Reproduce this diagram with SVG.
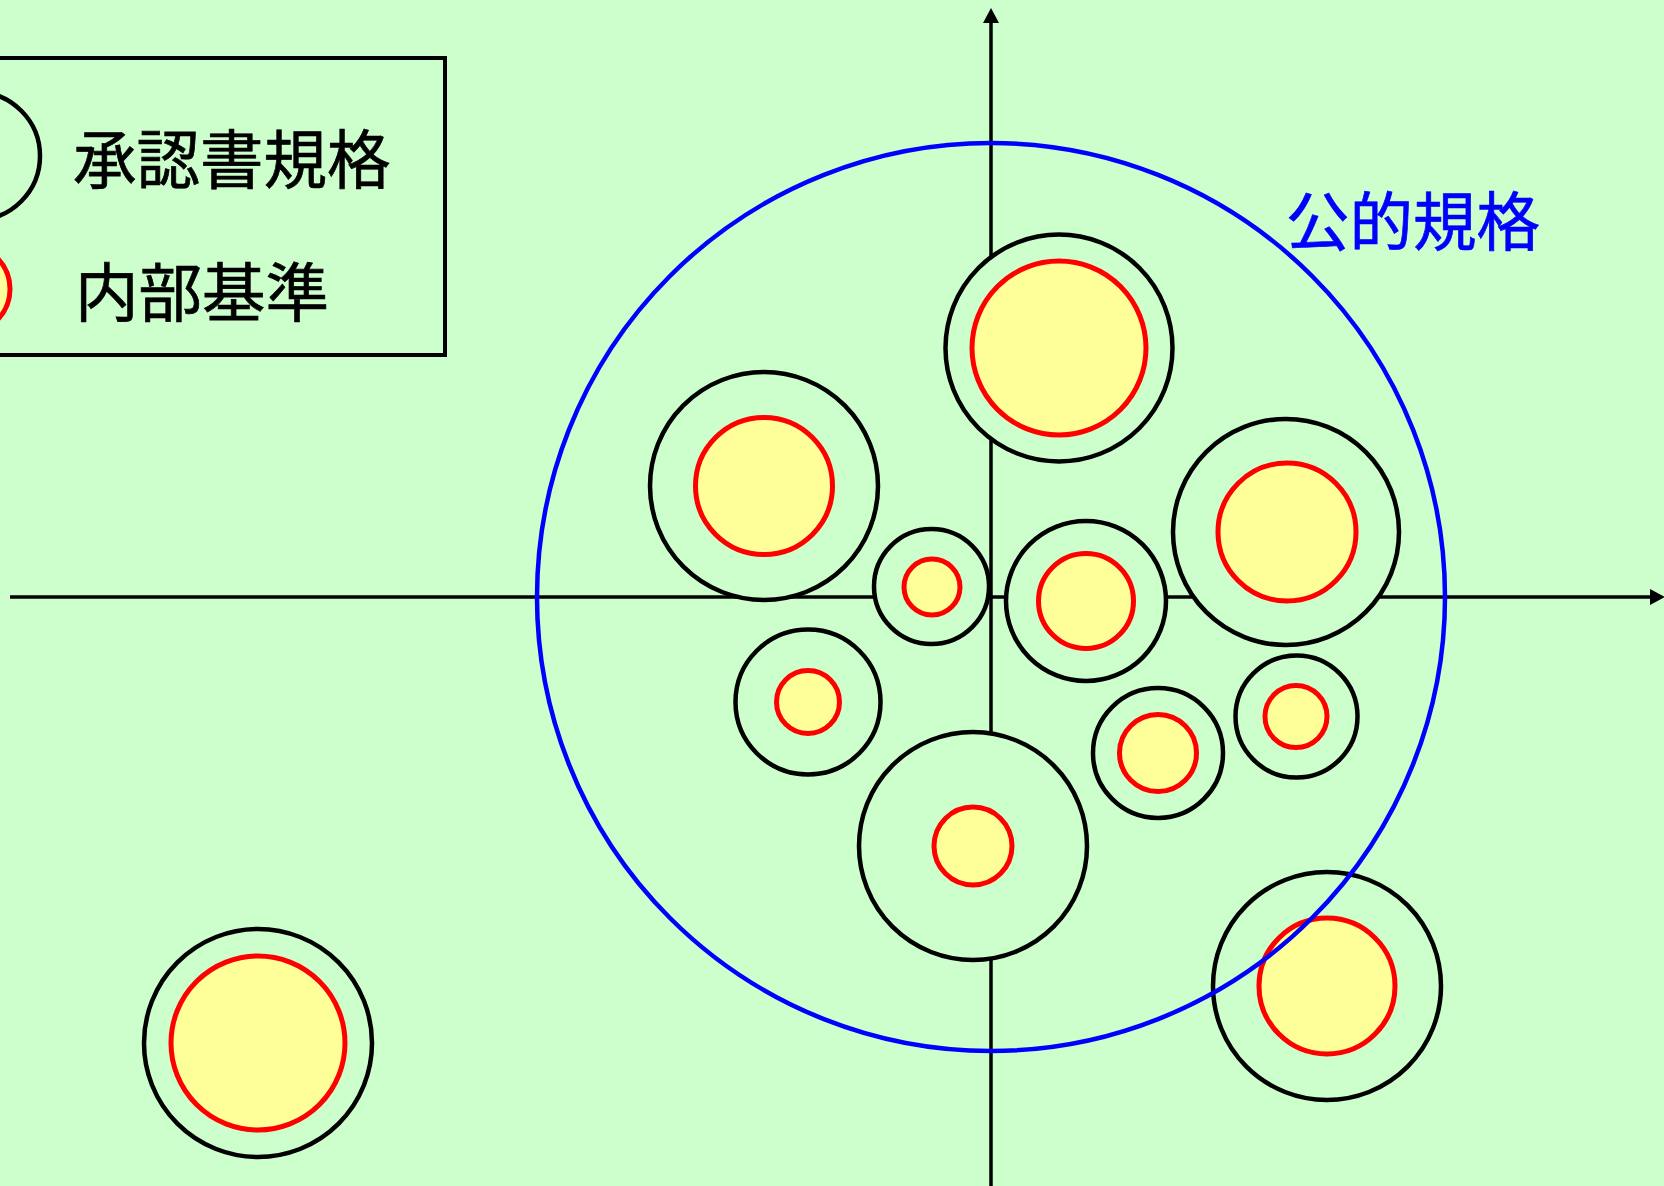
<svg xmlns="http://www.w3.org/2000/svg" width="1664" height="1186" viewBox="0 0 1664 1186">
<defs>
<style>
.outer{fill:#CCFFCC;stroke:#000000;stroke-width:4.5}
.inner{fill:#FFFF99;stroke:#FF0000;stroke-width:5}
.axis{fill:none;stroke:#000000;stroke-width:3.5}
.lbl{font-family:"Noto Sans CJK JP","Noto Sans CJK SC",sans-serif;font-size:63.5px;stroke-width:0.7}
</style>
<marker id="arr" markerUnits="userSpaceOnUse" markerWidth="16" markerHeight="16" refX="0" refY="8" orient="auto">
<path d="M0,0 L15,8 L0,16 z" fill="#000000"/>
</marker>
</defs>
<rect x="0" y="0" width="1664" height="1186" fill="#CCFFCC"/>
<g id="connectors">
<path class="axis" d="M10,597 L1650,597" marker-end="url(#arr)"/>
<path class="axis" d="M991,1186 L991,23" marker-end="url(#arr)"/>
</g>
<g id="node-top">
<circle class="outer" cx="1059" cy="348" r="113.5"/>
<circle class="inner" cx="1059" cy="348" r="87"/>
</g>
<g id="node-left">
<circle class="outer" cx="764" cy="486" r="114"/>
<circle class="inner" cx="764" cy="486" r="68.5"/>
</g>
<g id="node-center-small">
<circle class="outer" cx="931.5" cy="586.5" r="57.5"/>
<circle class="inner" cx="932" cy="587" r="28"/>
</g>
<g id="node-center-right">
<circle class="outer" cx="1086" cy="601" r="80"/>
<circle class="inner" cx="1086" cy="601" r="47.5"/>
</g>
<g id="node-right">
<circle class="outer" cx="1286" cy="532" r="113"/>
<circle class="inner" cx="1287" cy="532" r="69"/>
</g>
<g id="node-lower-left">
<circle class="outer" cx="808" cy="702" r="72.5"/>
<circle class="inner" cx="808" cy="702" r="31.5"/>
</g>
<g id="node-bottom">
<circle class="outer" cx="973" cy="846" r="114"/>
<circle class="inner" cx="973" cy="846" r="39"/>
</g>
<g id="node-lower-right-a">
<circle class="outer" cx="1158" cy="753" r="65"/>
<circle class="inner" cx="1158" cy="753" r="38.5"/>
</g>
<g id="node-lower-right-b">
<circle class="outer" cx="1296.5" cy="716.5" r="61"/>
<circle class="inner" cx="1296" cy="716.5" r="31"/>
</g>
<g id="node-far-bottom-right">
<circle class="outer" cx="1327" cy="986" r="114"/>
<circle class="inner" cx="1327" cy="986" r="68"/>
</g>
<g id="node-far-bottom-left">
<circle class="outer" cx="258" cy="1043" r="114"/>
<circle class="inner" cx="258" cy="1043" r="87"/>
</g>
<g id="public-standard">
<circle cx="991" cy="597" r="454" fill="none" stroke="#0000FF" stroke-width="4.5"/>
<text class="lbl" x="1286" y="245" fill="#0000FF" stroke="#0000FF">公的規格</text>
</g>
<g id="legend">
<rect x="-10" y="58" width="455" height="297" fill="#CCFFCC" stroke="#000000" stroke-width="4"/>
<circle class="outer" cx="-24" cy="156" r="64"/>
<circle class="inner" cx="-34" cy="289" r="44"/>
<text class="lbl" x="73" y="183" fill="#000000" stroke="#000000">承認書規格</text>
<text class="lbl" x="75" y="316" fill="#000000" stroke="#000000">内部基準</text>
</g>
</svg>
